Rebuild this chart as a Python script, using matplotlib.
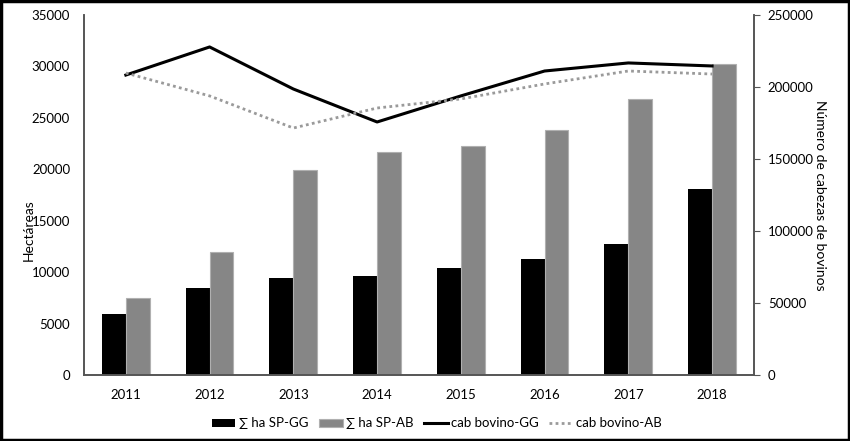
import numpy as np
import matplotlib.pyplot as plt

years = ['2011', '2012', '2013', '2014', '2015', '2016', '2017', '2018']
ha_gg = [5900, 8500, 9400, 9600, 10400, 11300, 12700, 18100]
ha_ab = [7500, 12000, 19900, 21700, 22300, 23800, 26800, 30200]
cab_gg = [208300, 227800, 198600, 175700, 193800, 211100, 216700, 214600]
cab_ab = [209700, 193800, 171500, 185400, 191700, 202100, 211100, 209000]

plt.rcParams['font.family'] = ['Lato', 'DejaVu Sans']
plt.rcParams['font.size'] = 9.5

fig = plt.figure(figsize=(8.5, 4.41), dpi=100)
ax = fig.add_axes([0.0988, 0.1497, 0.7882, 0.8163])
ax2 = ax.twinx()

x = np.arange(len(years))
width = 0.285

b1 = ax.bar(x - width / 2, ha_gg, width, color='black', label='∑ ha SP-GG', zorder=2)
b2 = ax.bar(x + width / 2, ha_ab, width, color='#868686', edgecolor='#b0b0b0',
            linewidth=0.8, label='∑ ha SP-AB', zorder=2)

l1, = ax2.plot(x, cab_gg, color='black', lw=2.2, label='cab bovino-GG')
l2, = ax2.plot(x, cab_ab, color='#9a9a9a', lw=2, ls=(0, (1, 1.2)), label='cab bovino-AB')

ax.set_xlim(-0.5, 7.5)
ax.set_ylim(0, 35000)
ax.set_yticks(np.arange(0, 35001, 5000))
ax2.set_ylim(0, 250000)
ax2.set_yticks(np.arange(0, 250001, 50000))
ax.set_xticks(x)
ax.set_xticklabels(years)

for a in (ax, ax2):
    a.spines['top'].set_visible(False)
    for s in a.spines.values():
        s.set_color('#555555')
        s.set_linewidth(1.2)
ax.tick_params(axis='x', length=0, pad=10, labelsize=9.5)
ax.tick_params(axis='y', length=0, pad=10, labelsize=9.5)
ax2.tick_params(axis='y', length=4, color='#555555', pad=6, labelsize=9.5)
ax.set_zorder(ax2.get_zorder() - 1)
ax2.set_zorder(1)
ax.patch.set_visible(False)

ax.set_ylabel('Hectáreas', fontsize=10)
ax.yaxis.set_label_coords(-0.074, 0.403)
ax2.set_ylabel('Número de cabezas de bovinos', fontsize=10, rotation=-90, labelpad=9)

fig.legend([b1, b2, l1, l2], ['∑ ha SP-GG', '∑ ha SP-AB', 'cab bovino-GG', 'cab bovino-AB'],
           loc='center', bbox_to_anchor=(0.514, 0.04), ncol=4, frameon=False,
           fontsize=9.5, handlelength=1.8, handleheight=0.6, handletextpad=0.25,
           columnspacing=0.8)

fig.patches.append(plt.Rectangle((0.001, 0.002), 0.998, 0.996, transform=fig.transFigure,
                                 fill=False, edgecolor='black', linewidth=2.5))

fig.savefig('out.png', dpi=100)
